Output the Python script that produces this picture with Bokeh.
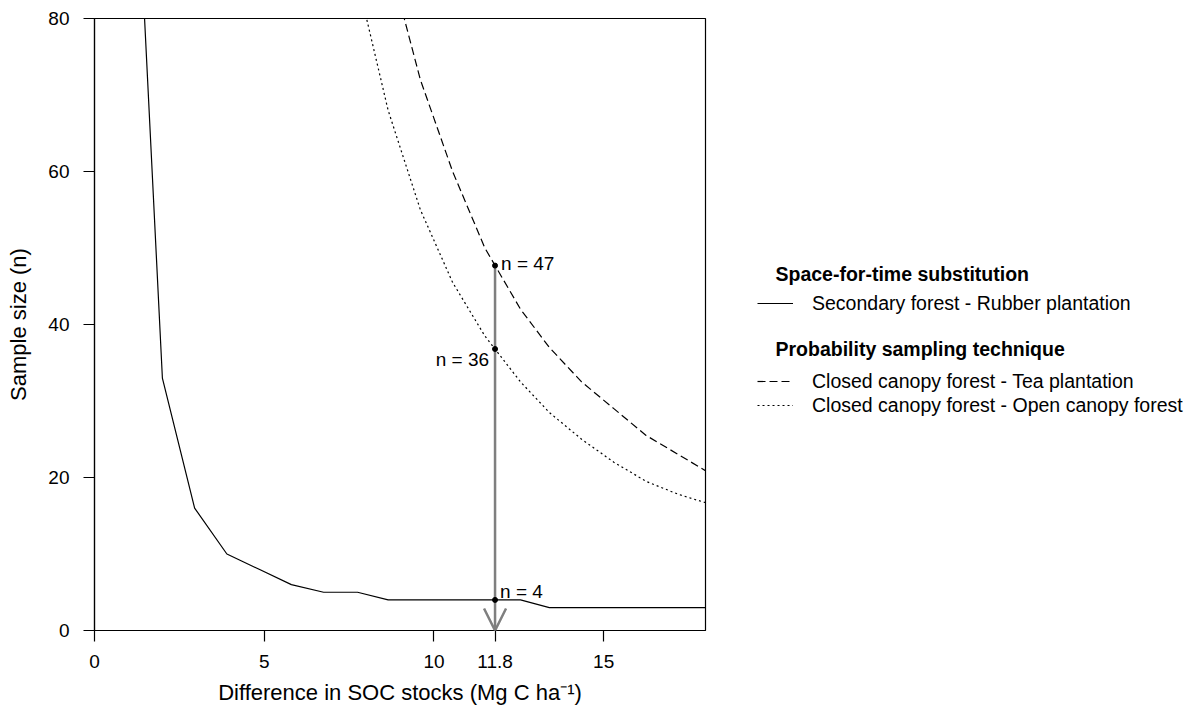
import numpy as np
from bokeh.plotting import figure
from bokeh.layouts import row
from bokeh.models import (Range1d, FixedTicker, Legend, LegendItem, Label, Arrow,
                          OpenHead)
from bokeh.core.properties import value
from bokeh.embed import file_html
from bokeh.resources import INLINE

# ---- data ----
diff_x = [1.05, 2.0, 2.95, 3.9, 4.85, 5.8, 6.75, 7.75, 8.65, 9.6, 10.55,
          11.5, 12.55, 13.4, 14.35, 15.3, 16.25, 17.2, 18.15]
n_rubber = [118, 33, 16, 10, 8, 6, 5, 5, 4, 4, 4, 4, 4, 3, 3, 3, 3, 3, 3]
n_tea = [None, None, None, None, None, None, None, 110, 88, 72, 60,
         50, 42, 37, 32.5, 29, 25.5, 23, 20.5]
n_open = [None, None, None, None, None, None, 112, 85, 68, 55, 45.5,
          38.5, 32.5, 28.5, 25, 22, 19.5, 17.8, 16.5]

target_diff = 11.8
target_n = [47.7, 36.8, 4]
target_labels = ["n = 47", "n = 36", "n = 4"]

x_ticks = [0, 5, 10, 11.8, 15]
x_tick_labels = ["0", "5", "10", "11.8", "15"]
y_ticks = [0, 20, 40, 60, 80]

legend_groups = ["Space-for-time substitution", "Probability sampling technique"]
legend_labels = ["Secondary forest - Rubber plantation",
                 "Closed canopy forest - Tea plantation",
                 "Closed canopy forest - Open canopy forest"]

FONT = "Liberation Sans"
FS = "19px"
FS_TITLE = "22px"
FS_LEG = "19.5px"
H = 710
FRAME_BOTTOM = 630

def clean(xs, ys):
    pts = [(a, b) for a, b in zip(xs, ys) if b is not None]
    return [a for a, _ in pts], [b for _, b in pts]

p = figure(width=710, height=H, output_backend="svg", toolbar_location=None,
           x_range=Range1d(0, 18), y_range=Range1d(0, 80),
           min_border_left=94, min_border_top=18, min_border_right=5,
           min_border_bottom=H - FRAME_BOTTOM)
p.xgrid.visible = False
p.ygrid.visible = False
p.outline_line_color = "black"
p.outline_line_width = 1.2
p.border_fill_color = "white"

for ax in (p.xaxis[0], p.yaxis[0]):
    ax.axis_line_color = "black"
    ax.axis_line_width = 1.2
    ax.major_tick_line_color = "black"
    ax.major_tick_line_width = 1.2
    ax.major_tick_in = 0
    ax.major_tick_out = 11
    ax.minor_tick_line_color = None
    ax.major_label_text_font = FONT
    ax.major_label_text_font_size = FS
    ax.major_label_text_color = "black"
    ax.axis_label_text_font = FONT
    ax.axis_label_text_font_size = FS_TITLE
    ax.axis_label_text_font_style = "normal"
    ax.axis_label_text_color = "black"

p.xaxis.ticker = FixedTicker(ticks=x_ticks)
p.xaxis.major_label_overrides = {t: l for t, l in zip(x_ticks, x_tick_labels)}
p.yaxis.ticker = FixedTicker(ticks=y_ticks)
p.xaxis.axis_label = "Difference in SOC stocks (Mg C ha\u207b\u00b9)"
p.yaxis.axis_label = "Sample size (n)"
p.xaxis.major_label_standoff = 13
p.xaxis.axis_label_standoff = 9
p.yaxis.major_label_standoff = 14
p.yaxis.axis_label_standoff = 14

xr, yr = clean(diff_x, n_rubber)
xt, yt = clean(diff_x, n_tea)
xo, yo = clean(diff_x, n_open)
p.line(xr, yr, line_color="black", line_width=1.2)
p.line(xt, yt, line_color="black", line_width=1.2, line_dash="8 4")
p.line(xo, yo, line_color="black", line_width=1.2, line_dash="2 3")

# grey arrow from n = 47 down to the axis
arrow = Arrow(x_start=target_diff, y_start=target_n[0], x_end=target_diff, y_end=0,
              line_color="#7f7f7f", line_width=2.5,
              end=OpenHead(size=22, line_color="#7f7f7f", line_width=2.5))
p.add_layout(arrow)

pts = p.scatter([target_diff] * 3, target_n, size=5, color="black")
pts.level = "overlay"

p.text([target_diff], [target_n[0]], text=[target_labels[0]], x_offset=6, y_offset=-2,
       text_font=value(FONT), text_font_size=FS, text_baseline="middle",
       text_align="left", text_color="black")
p.text([target_diff], [target_n[1]], text=[target_labels[1]], x_offset=-6, y_offset=11,
       text_font=value(FONT), text_font_size=FS, text_baseline="middle",
       text_align="right", text_color="black")
p.text([target_diff], [target_n[2]], text=[target_labels[2]], x_offset=5, y_offset=-8,
       text_font=value(FONT), text_font_size=FS, text_baseline="middle",
       text_align="left", text_color="black")

# ---- legend panel (separate figure to the right; its frame aligns with p's) ----
q = figure(width=485, height=H, output_backend="svg", toolbar_location=None,
           x_range=Range1d(0, 1), y_range=Range1d(0, 1), min_border=0)
q.axis.visible = False
q.xgrid.visible = False
q.ygrid.visible = False
q.outline_line_color = None

nan = np.array([np.nan])
k1 = q.line(nan, nan, line_color="black", line_width=1.2)
k2 = q.line(nan, nan, line_color="black", line_width=1.2, line_dash="8 4")
k3 = q.line(nan, nan, line_color="black", line_width=1.2, line_dash="2 3")

def make_legend(items, bottom_page):
    return Legend(items=items, location=(47, FRAME_BOTTOM - bottom_page), padding=0, margin=0,
                  border_line_color=None, background_fill_alpha=0,
                  label_text_font=FONT, label_text_font_size=FS_LEG,
                  label_text_color="black",
                  glyph_width=36, glyph_height=24, label_height=24,
                  label_standoff=19, spacing=0)

q.add_layout(make_legend([LegendItem(label=legend_labels[0], renderers=[k1])], 303 + 12))
q.add_layout(make_legend([LegendItem(label=legend_labels[1], renderers=[k2]),
                          LegendItem(label=legend_labels[2], renderers=[k3])], 405 + 12))

for txt, yy in zip(legend_groups, [273, 348]):
    q.add_layout(Label(x=65, y=FRAME_BOTTOM - yy, x_units="screen", y_units="screen",
                       text=txt, text_font=FONT, text_font_size=FS_LEG,
                       text_font_style="bold", text_baseline="middle",
                       text_color="black"))

layout = row(p, q)
open("out.html", "w").write(file_html(layout, INLINE))
